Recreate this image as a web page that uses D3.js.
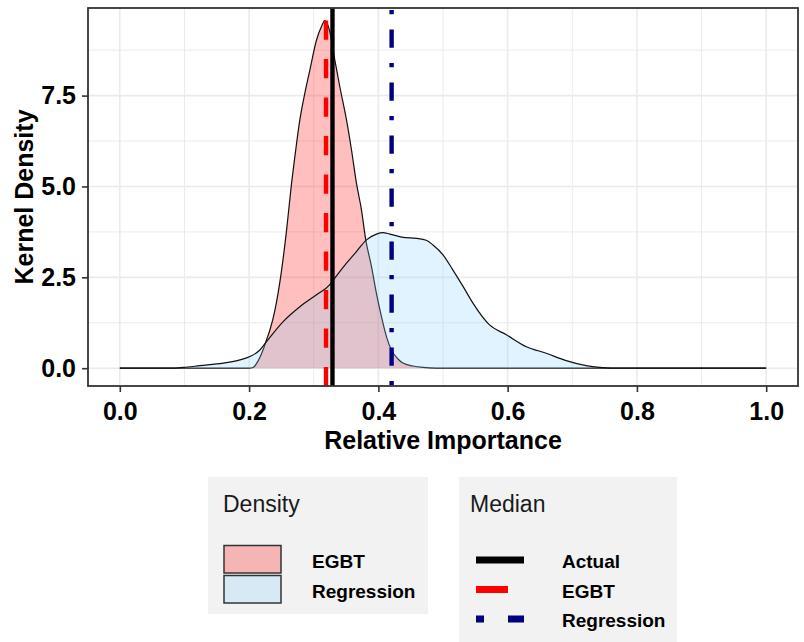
<!DOCTYPE html>
<html>
<head>
<meta charset="utf-8">
<script src="https://cdn.jsdelivr.net/npm/d3@7"></script>
<style>
  body { margin: 0; background: #fff; }
  text { font-family: "Liberation Sans", Arial, sans-serif; }
</style>
</head>
<body>
<div id="chart"></div>
<script>
// density curves: [relative importance, kernel density]
var egbtDensity = [[0, 0], [0.1, 0], [0.2, 0], [0.206, 0.02], [0.214, 0.2], [0.222, 0.52], [0.227, 0.78],
  [0.2322, 1.05], [0.24, 1.6], [0.2503, 2.7], [0.258, 3.8], [0.2657, 5.09], [0.2708, 5.82], [0.2785, 6.83],
  [0.2863, 7.57], [0.2941, 8.21], [0.3043, 9.03], [0.312, 9.4], [0.3172, 9.56], [0.3249, 9.26],
  [0.3326, 8.48], [0.3403, 7.75], [0.3507, 6.83], [0.3584, 6.01], [0.3661, 5.09], [0.3739, 4.35],
  [0.3805, 3.53], [0.3893, 2.8], [0.397, 2.06], [0.4048, 1.42], [0.4125, 0.87], [0.4202, 0.5],
  [0.43, 0.26], [0.438, 0.14], [0.4536, 0.06], [0.469, 0.02], [0.49, 0], [0.7, 0], [1, 0]];
var regDensity = [[0, 0], [0.08, 0], [0.098, 0.02], [0.124, 0.07], [0.16, 0.14], [0.186, 0.23],
  [0.2013, 0.32], [0.2167, 0.5], [0.227, 0.73], [0.2527, 1.28], [0.2785, 1.69], [0.3043, 2.02],
  [0.3249, 2.3], [0.3326, 2.48], [0.3507, 2.89], [0.3661, 3.21], [0.3816, 3.53], [0.397, 3.69],
  [0.4073, 3.73], [0.4176, 3.69], [0.438, 3.6], [0.4588, 3.57], [0.474, 3.52], [0.4845, 3.39],
  [0.5, 3.12], [0.5154, 2.7], [0.531, 2.25], [0.5463, 1.79], [0.572, 1.19], [0.598, 0.92],
  [0.629, 0.59], [0.6597, 0.41], [0.6906, 0.21], [0.7215, 0.07], [0.742, 0.02], [0.76, 0], [1, 0]];

var medianNames = ['Actual', 'EGBT', 'Regression'];
var medianValues = [0.329, 0.319, 0.4205];
var densityNames = ['EGBT', 'Regression'];

var xTicks = [0, 0.2, 0.4, 0.6, 0.8, 1.0];
var xMinor = [0.1, 0.3, 0.5, 0.7, 0.9];
var yTicks = [0, 2.5, 5, 7.5];
var yMinor = [1.25, 3.75, 6.25, 8.75];

var width = 804, height = 642;
var svg = d3.select('#chart').append('svg').attr('width', width).attr('height', height);

var pl = 88, pr = 798, pt = 8, pb = 386;
var x = d3.scaleLinear().domain([-0.05, 1.05]).range([87.5, 798.5]);
var y = d3.scaleLinear().domain([-0.49, 9.91]).range([pb, pt]);

// grid
var grid = svg.append('g');
grid.selectAll('.xmin').data(xMinor).enter().append('line')
  .attr('x1', d => x(d)).attr('x2', d => x(d)).attr('y1', pt).attr('y2', pb)
  .style('stroke', '#EBEBEB').style('stroke-width', 1);
grid.selectAll('.ymin').data(yMinor).enter().append('line')
  .attr('x1', pl).attr('x2', pr).attr('y1', d => y(d)).attr('y2', d => y(d))
  .style('stroke', '#EBEBEB').style('stroke-width', 1);
grid.selectAll('.xmaj').data(xTicks).enter().append('line')
  .attr('x1', d => x(d)).attr('x2', d => x(d)).attr('y1', pt).attr('y2', pb)
  .style('stroke', '#EBEBEB').style('stroke-width', 1.6);
grid.selectAll('.ymaj').data(yTicks).enter().append('line')
  .attr('x1', pl).attr('x2', pr).attr('y1', d => y(d)).attr('y2', d => y(d))
  .style('stroke', '#EBEBEB').style('stroke-width', 1.6);

// densities
var area = d3.area().x(d => x(d[0])).y0(y(0)).y1(d => y(d[1])).curve(d3.curveMonotoneX);
var line = d3.line().x(d => x(d[0])).y(d => y(d[1])).curve(d3.curveMonotoneX);
var fills = ['rgba(255,0,0,0.25)', 'rgba(135,206,250,0.25)'];
[egbtDensity, regDensity].forEach(function (dens, i) {
  svg.append('path').datum(dens).attr('d', area).style('fill', fills[i]).style('stroke', 'none');
  svg.append('path').datum(dens).attr('d', line).style('fill', 'none').style('stroke', '#111').style('stroke-width', 1.2);
});

// median lines
var vStyle = [
  { color: '#000', dash: null, off: 0 },
  { color: '#FF0000', dash: '19.3,19.2', off: 26 },
  { color: '#000080', dash: '4.3,15.2,18.3,15.2', off: 51 }
];
svg.selectAll('.vline').data(medianValues).enter().append('line')
  .attr('x1', d => x(d)).attr('x2', d => x(d)).attr('y1', pt).attr('y2', pb)
  .style('stroke', (d, i) => vStyle[i].color).style('stroke-width', 4.4)
  .style('stroke-dasharray', (d, i) => vStyle[i].dash)
  .style('stroke-dashoffset', (d, i) => vStyle[i].off);

// panel border
svg.append('rect').attr('x', pl).attr('y', pt).attr('width', pr - pl).attr('height', pb - pt)
  .style('fill', 'none').style('stroke', '#333').style('stroke-width', 1.8);

// axes
var xAxis = svg.append('g').attr('transform', `translate(0,${pb})`)
  .call(d3.axisBottom(x).tickValues(xTicks).tickFormat(d3.format('.1f')).tickSize(6).tickPadding(10));
var yAxis = svg.append('g').attr('transform', `translate(${pl},0)`)
  .call(d3.axisLeft(y).tickValues(yTicks).tickFormat(d3.format('.1f')).tickSize(6).tickPadding(6));
[xAxis, yAxis].forEach(function (ax) {
  ax.select('.domain').remove();
  ax.selectAll('line').style('stroke', '#333').style('stroke-width', 1.6);
  ax.selectAll('text').style('font-size', '25px').style('font-weight', 'bold').style('fill', '#000')
    .style('font-family', '"Liberation Sans", Arial, sans-serif');
});

svg.append('text').text('Relative Importance').attr('x', (pl + pr) / 2).attr('y', 449)
  .attr('text-anchor', 'middle').style('font-size', '25px').style('font-weight', 'bold');
svg.append('text').text('Kernel Density').attr('transform', `translate(33,${(pt + pb) / 2})rotate(-90)`)
  .attr('text-anchor', 'middle').style('font-size', '25px').style('font-weight', 'bold');

// legend: density
var lg1 = svg.append('g').attr('transform', 'translate(208,477)');
lg1.append('rect').attr('width', 220).attr('height', 137).style('fill', '#F2F2F2');
lg1.append('text').text('Density').attr('x', 15).attr('y', 35).style('font-size', '23px').style('fill', '#1a1a1a');
var keyFills = ['rgba(255,0,0,0.25)', 'rgba(135,206,250,0.25)'];
densityNames.forEach(function (name, i) {
  lg1.append('rect').attr('x', 16).attr('y', 68.5 + i * 30).attr('width', 57).attr('height', 27.5)
    .style('fill', keyFills[i]).style('stroke', '#333').style('stroke-width', 1.5);
  lg1.append('text').text(name).attr('x', 104).attr('y', 91 + i * 30)
    .style('font-size', '19px').style('font-weight', 'bold');
});

// legend: median
var lg2 = svg.append('g').attr('transform', 'translate(459,477)');
lg2.append('rect').attr('width', 218).attr('height', 170).style('fill', '#F2F2F2');
lg2.append('text').text('Median').attr('x', 11).attr('y', 35).style('font-size', '23px').style('fill', '#1a1a1a');
var keyDash = [null, '32,32', '8,24,32,24'];
medianNames.forEach(function (name, i) {
  lg2.append('line').attr('x1', 17).attr('x2', 65).attr('y1', 83 + i * 29.5).attr('y2', 83 + i * 29.5)
    .style('stroke', vStyle[i].color).style('stroke-width', 7).style('stroke-dasharray', keyDash[i]);
  lg2.append('text').text(name).attr('x', 103).attr('y', 91 + i * 29.5)
    .style('font-size', '19px').style('font-weight', 'bold');
});
</script>
</body>
</html>
